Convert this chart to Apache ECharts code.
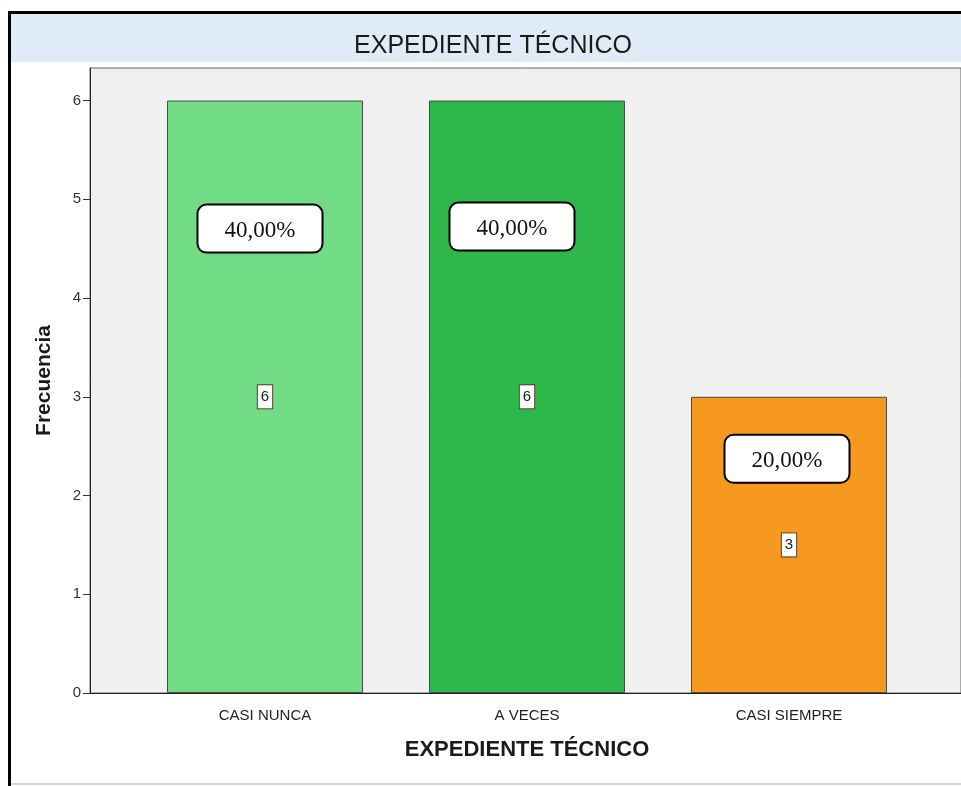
<!DOCTYPE html>
<html>
<head>
<meta charset="utf-8">
<script src="https://cdn.jsdelivr.net/npm/echarts@6/dist/echarts.min.js"></script>
<style>
  html, body { margin: 0; padding: 0; background: #fff; }
  #chart-1 { width: 961px; height: 786px; }
</style>
</head>
<body>
<div id="chart-1"></div>
<script>
const categories = ['CASI NUNCA', 'A VECES', 'CASI SIEMPRE'];
const counts = [6, 6, 3];
const barColors = ['#72db86', '#2eb84b', '#f7991f'];
const yTicks = [0, 1, 2, 3, 4, 5, 6];

const total = counts.reduce((a, b) => a + b, 0);
const pctLabels = counts.map(c => (c / total * 100).toFixed(2).replace('.', ',') + '%');
// where each percent box sits inside its bar (distance from bar top, x shift)
const pctPlace = [[105, -5], [103, -15], [39, -2]];

const TheChart = echarts.init(document.getElementById('chart-1'));
const font = 'Arial, "Liberation Sans", sans-serif';
const yMax = 6.33;

TheChart.setOption({
    animation: false,
    backgroundColor: '#fff',
    title: {
        text: 'EXPEDIENTE TÉCNICO',
        left: 488,
        top: 29,
        textAlign: 'center',
        textStyle: { fontFamily: font, fontSize: 25, fontWeight: 'normal', color: '#1a1a1a' }
    },
    graphic: [
        { type: 'rect', shape: { x: 11, y: 14, width: 952, height: 48 }, style: { fill: '#e0ebf8' }, z: -1 },
        { type: 'line', shape: { x1: 9.5, y1: 11, x2: 9.5, y2: 786 }, style: { stroke: '#000', lineWidth: 3 } },
        { type: 'line', shape: { x1: 8, y1: 12.5, x2: 961, y2: 12.5 }, style: { stroke: '#000', lineWidth: 3 } },
        { type: 'line', shape: { x1: 11, y1: 784, x2: 961, y2: 784 }, style: { stroke: '#b0b0b0', lineWidth: 1 } }
    ],
    grid: [
        { left: 90, top: 68, right: -2, bottom: 93, show: true, backgroundColor: '#f0f0f0', borderColor: '#666', borderWidth: 1 },
        { left: 134, top: 68, right: 41, bottom: 93 }
    ],
    xAxis: [
        {
            gridIndex: 0, type: 'category', data: [''],
            axisLine: { lineStyle: { color: '#222', width: 1 } },
            axisTick: { show: false }, axisLabel: { show: false }
        },
        {
            gridIndex: 1, type: 'category', data: categories,
            name: 'EXPEDIENTE TÉCNICO', nameLocation: 'middle', nameGap: 46,
            nameTextStyle: { fontFamily: font, fontSize: 22, fontWeight: 'bold', color: '#1a1a1a' },
            axisLine: { show: false },
            axisTick: { alignWithLabel: true, length: 7, lineStyle: { color: '#333' } },
            axisLabel: { fontFamily: font, fontSize: 15, color: '#222', margin: 15 }
        }
    ],
    yAxis: [
        {
            gridIndex: 0, type: 'value', min: 0, max: yMax,
            name: 'Frecuencia', nameLocation: 'middle', nameGap: 35,
            nameTextStyle: { fontFamily: font, fontSize: 21, fontWeight: 'bold', color: '#1a1a1a' },
            splitLine: { show: false },
            axisLine: { show: true, lineStyle: { color: '#222' } },
            axisTick: { show: true, length: 7, customValues: yTicks, lineStyle: { color: '#333' } },
            axisLabel: { customValues: yTicks, fontFamily: font, fontSize: 15, color: '#333', margin: 9 }
        },
        { gridIndex: 1, type: 'value', min: 0, max: yMax, show: false, splitLine: { show: false } }
    ],
    series: [
        {
            type: 'bar',
            xAxisIndex: 1, yAxisIndex: 1,
            barWidth: 196,
            barGap: '-100%',
            data: counts.map((v, i) => ({ value: v, itemStyle: { color: barColors[i] } })),
            itemStyle: { borderColor: '#4a4a4a', borderWidth: 1 },
            label: {
                show: true,
                position: 'inside',
                fontFamily: font, fontSize: 15, color: '#222',
                backgroundColor: '#fff',
                borderColor: '#5a3a2a', borderWidth: 1,
                padding: [5, 3, 3, 3]
            }
        },
        {
            type: 'bar',
            xAxisIndex: 1, yAxisIndex: 1,
            barWidth: 196,
            barGap: '-100%',
            silent: true,
            itemStyle: { color: 'transparent' },
            data: counts.map((v, i) => ({
                value: v,
                label: {
                    distance: pctPlace[i][0],
                    offset: [pctPlace[i][1], 0],
                    formatter: pctLabels[i]
                }
            })),
            label: {
                show: true,
                position: 'insideTop',
                fontFamily: '"Times New Roman", "Liberation Serif", serif',
                fontSize: 23, color: '#111',
                backgroundColor: '#fff',
                borderColor: '#000', borderWidth: 2, borderRadius: 8,
                width: 123, height: 46, lineHeight: 50,
                align: 'center', verticalAlign: 'top'
            }
        }
    ]
});
</script>
</body>
</html>
